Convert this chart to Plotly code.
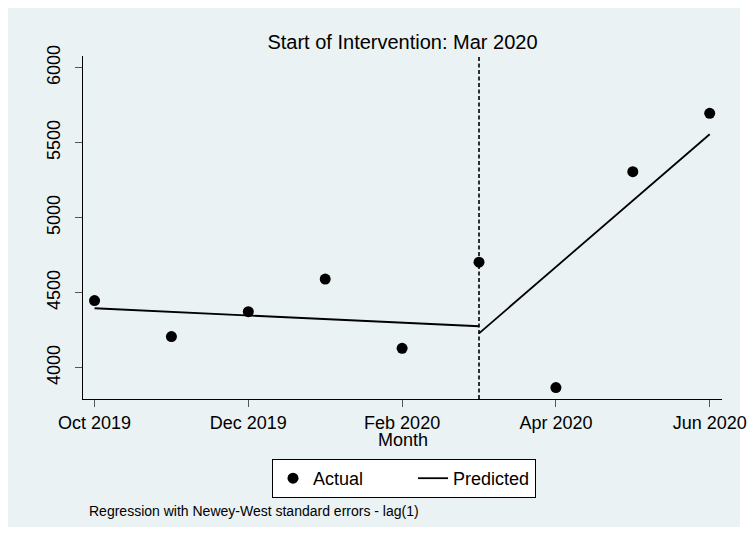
import plotly.graph_objects as go

# Monthly series, Oct 2019 - Jun 2020 (month index 0..8)
months = ["Oct 2019", "Nov 2019", "Dec 2019", "Jan 2020", "Feb 2020",
          "Mar 2020", "Apr 2020", "May 2020", "Jun 2020"]
month_idx = list(range(len(months)))

actual = [4447, 4207, 4373, 4591, 4129, 4703, 3867, 5307, 5696]

# Fitted segments before and after the intervention (Mar 2020)
pre_idx = [0, 1, 2, 3, 4, 5]
pre_pred = [4396, 4372, 4348, 4324, 4300, 4276]
post_idx = [5, 6, 7, 8]
post_pred = [4229, 4671, 5113, 5556]

intervention_idx = 5
intervention_label = "Mar 2020"

xtick_vals = [0, 2, 4, 6, 8]
xtick_text = ["Oct 2019", "Dec 2019", "Feb 2020", "Apr 2020", "Jun 2020"]
ytick_vals = [4000, 4500, 5000, 5500, 6000]

FONT = "Liberation Sans, Arial, sans-serif"
BG = "#EAF2F3"

W, H = 748, 535
L, R, T, B = 83, 26, 56, 136
PW, PH = W - L - R, H - T - B

# non-breaking spaces widen the first legend entry
GAP = "\u00a0" * 9

fig = go.Figure()

fig.add_trace(go.Scatter(
    x=month_idx, y=actual, mode="markers", name="Actual" + GAP,
    marker=dict(color="black", size=11, symbol="circle"),
))

fig.add_trace(go.Scatter(
    x=pre_idx + [None] + post_idx,
    y=pre_pred + [None] + post_pred,
    mode="lines", name="Predicted", connectgaps=False,
    line=dict(color="black", width=1.8),
))

# Intervention marker line
fig.add_shape(type="line", xref="x", yref="y domain",
              x0=intervention_idx, x1=intervention_idx, y0=0, y1=1,
              line=dict(color="black", width=1.6, dash="4px,2.5px"),
              layer="above")

# Light outer graph region
fig.add_shape(type="rect", xref="paper", yref="paper",
              x0=-(L - 8) / PW, x1=1 + (R - 8) / PW,
              y0=-(B - 8) / PH, y1=1 + (T - 8) / PH,
              fillcolor=BG, line=dict(width=0), layer="below")

fig.add_annotation(text="Month", xref="paper", yref="paper",
                   x=0.5, y=-(440 - (H - B)) / PH, xanchor="center",
                   yanchor="middle", showarrow=False,
                   font=dict(size=18, color="black", family=FONT))
fig.add_annotation(text="Regression with Newey-West standard errors - lag(1)",
                   xref="paper", yref="paper",
                   x=(87 - L) / PW, y=-(511 - (H - B)) / PH,
                   xanchor="left", yanchor="middle", showarrow=False,
                   font=dict(size=14, color="black", family=FONT))

fig.update_layout(
    width=W, height=H,
    margin=dict(l=L, r=R, t=T, b=B, autoexpand=False),
    paper_bgcolor="white", plot_bgcolor="white",
    font=dict(family=FONT, color="black", size=18),
    title=dict(text="Start of Intervention: " + intervention_label,
               x=0.5, xref="paper", xanchor="center",
               y=1 - 42 / H, yref="container", yanchor="middle",
               font=dict(size=20, color="black", family=FONT)),
    showlegend=True,
    legend=dict(orientation="h", x=(404 - L) / PW, xanchor="center",
                y=-(459 - (H - B)) / PH, yanchor="top",
                bgcolor="white", bordercolor="black", borderwidth=1,
                font=dict(size=18, color="black", family=FONT)),
    xaxis=dict(range=[-0.15, 8.16], tickvals=xtick_vals, ticktext=xtick_text,
               automargin=False,
               showgrid=False, zeroline=False, showline=True,
               linecolor="black", linewidth=1,
               ticks="outside", ticklen=7, tickcolor="#555555", tickwidth=1,
               tickfont=dict(size=18, color="black", family=FONT)),
    yaxis=dict(range=[3791, 6078], tickvals=ytick_vals, automargin=False,
               showgrid=True, gridcolor=BG, gridwidth=1.5,
               zeroline=False, showline=True, linecolor="black", linewidth=1,
               ticks="outside", ticklen=7, tickcolor="#555555", tickwidth=1,
               tickangle=-90, ticklabelstandoff=8,
               tickfont=dict(size=18, color="black", family=FONT)),
)

fig.write_html("out.html")
